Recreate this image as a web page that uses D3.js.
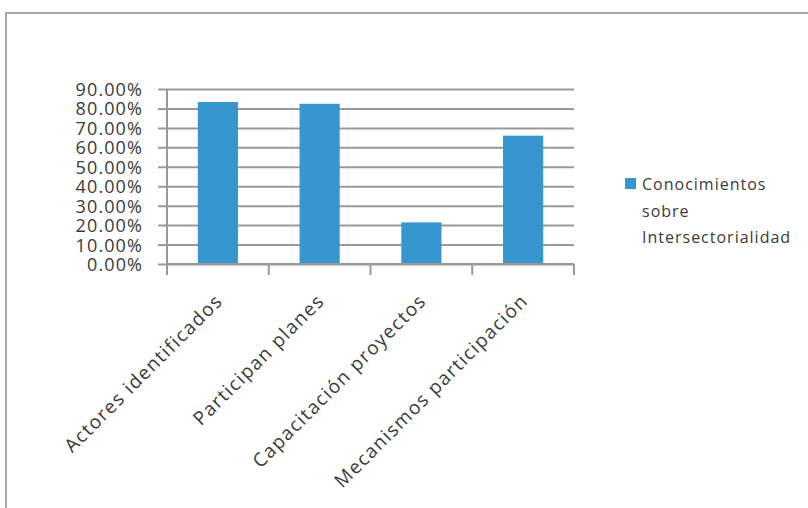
<!DOCTYPE html>
<html>
<head>
<meta charset="utf-8">
<script src="https://cdn.jsdelivr.net/npm/d3@7"></script>
<style>
  body { margin: 0; background: #fff; }
  text { font-family: "Open Sans", sans-serif; fill: #3a3a3a; }
</style>
</head>
<body>
<div id="vis"></div>
<script>
const FRAME_WIDTH = 808;
const FRAME_HEIGHT = 508;
const MARGINS = {left: 167, right: 234, top: 89, bottom: 244};

// data
const categories = ["Actores identificados", "Participan planes",
                    "Capacitación proyectos", "Mecanismos participación"];
const values = [0.833, 0.824, 0.214, 0.66];
const seriesName = ["Conocimientos", "sobre", "Intersectorialidad"];
const yTicks = [0, 0.1, 0.2, 0.3, 0.4, 0.5, 0.6, 0.7, 0.8, 0.9];

const VIS_WIDTH = FRAME_WIDTH - MARGINS.left - MARGINS.right;
const VIS_HEIGHT = FRAME_HEIGHT - MARGINS.top - MARGINS.bottom;

const FRAME = d3.select("#vis")
                .append("svg")
                  .attr("width", FRAME_WIDTH)
                  .attr("height", FRAME_HEIGHT);

// outer border of the chart area
FRAME.append("path")
      .attr("d", "M6," + FRAME_HEIGHT + " V13 H" + FRAME_WIDTH)
      .attr("fill", "none")
      .attr("stroke", "#a8a8a8")
      .attr("stroke-width", 2);

const X_SCALE = d3.scaleBand()
                  .domain(categories)
                  .range([0, VIS_WIDTH])
                  .padding(0);

const Y_SCALE = d3.scaleLinear()
                  .domain([0, 0.9])
                  .range([VIS_HEIGHT, 0]);

const VIS = FRAME.append("g")
                 .attr("transform", "translate(" + MARGINS.left + "," + MARGINS.top + ")");

// gridlines + y axis
const yAxis = VIS.append("g")
                 .call(d3.axisLeft(Y_SCALE)
                         .tickValues(yTicks)
                         .tickFormat(d3.format(".2%"))
                         .tickSize(-VIS_WIDTH)
                         .tickPadding(24));
yAxis.select(".domain").remove();
yAxis.selectAll(".tick line")
     .attr("x1", -9)
     .attr("stroke", "#999")
     .attr("stroke-width", 2);
yAxis.selectAll(".tick text")
     .attr("font-size", 18)
     .attr("letter-spacing", 1.1)
     .attr("dy", "0.36em")
     .style("font-family", "'Open Sans', sans-serif")
     .attr("fill", "#3a3a3a");

VIS.append("line")
   .attr("x1", 0).attr("x2", 0)
   .attr("y1", 0).attr("y2", VIS_HEIGHT)
   .attr("stroke", "#999")
   .attr("stroke-width", 2);

// bars
const BAR_W = X_SCALE.bandwidth() * 0.395;
VIS.selectAll(".bar")
   .data(values)
   .enter()
   .append("rect")
     .attr("class", "bar")
     .attr("x", (d, i) => X_SCALE(categories[i]) + X_SCALE.bandwidth() / 2 - BAR_W / 2)
     .attr("y", (d) => Y_SCALE(d))
     .attr("width", BAR_W)
     .attr("height", (d) => VIS_HEIGHT - Y_SCALE(d))
     .attr("fill", "#3596d0");

// x axis line and ticks
VIS.append("line")
   .attr("x1", 0).attr("x2", VIS_WIDTH)
   .attr("y1", VIS_HEIGHT).attr("y2", VIS_HEIGHT)
   .attr("stroke", "#999")
   .attr("stroke-width", 2);

const edges = categories.map((c) => X_SCALE(c)).concat([VIS_WIDTH]);
VIS.selectAll(".xtick")
   .data(edges)
   .enter()
   .append("line")
     .attr("x1", (d) => d).attr("x2", (d) => d)
     .attr("y1", VIS_HEIGHT).attr("y2", VIS_HEIGHT + 11)
     .attr("stroke", "#999")
     .attr("stroke-width", 2);

// rotated category labels
VIS.selectAll(".xlabel")
   .data(categories)
   .enter()
   .append("text")
     .attr("transform", (d) => "translate(" + (X_SCALE(d) + X_SCALE.bandwidth() / 2 + 6) +
           "," + (VIS_HEIGHT + 38) + ") rotate(-45)")
     .attr("text-anchor", "end")
     .attr("font-size", 19)
     .attr("letter-spacing", 1.4)
     .text((d) => d);

// legend
const LEGEND = FRAME.append("g")
                    .attr("transform", "translate(625,178)");
LEGEND.append("rect")
      .attr("width", 11).attr("height", 11)
      .attr("fill", "#3596d0");
LEGEND.selectAll(".leg")
      .data(seriesName)
      .enter()
      .append("text")
        .attr("x", 17)
        .attr("y", (d, i) => 12 + i * 26.5)
        .attr("font-size", 16)
        .attr("letter-spacing", 1.0)
        .text((d) => d);
</script>
</body>
</html>
